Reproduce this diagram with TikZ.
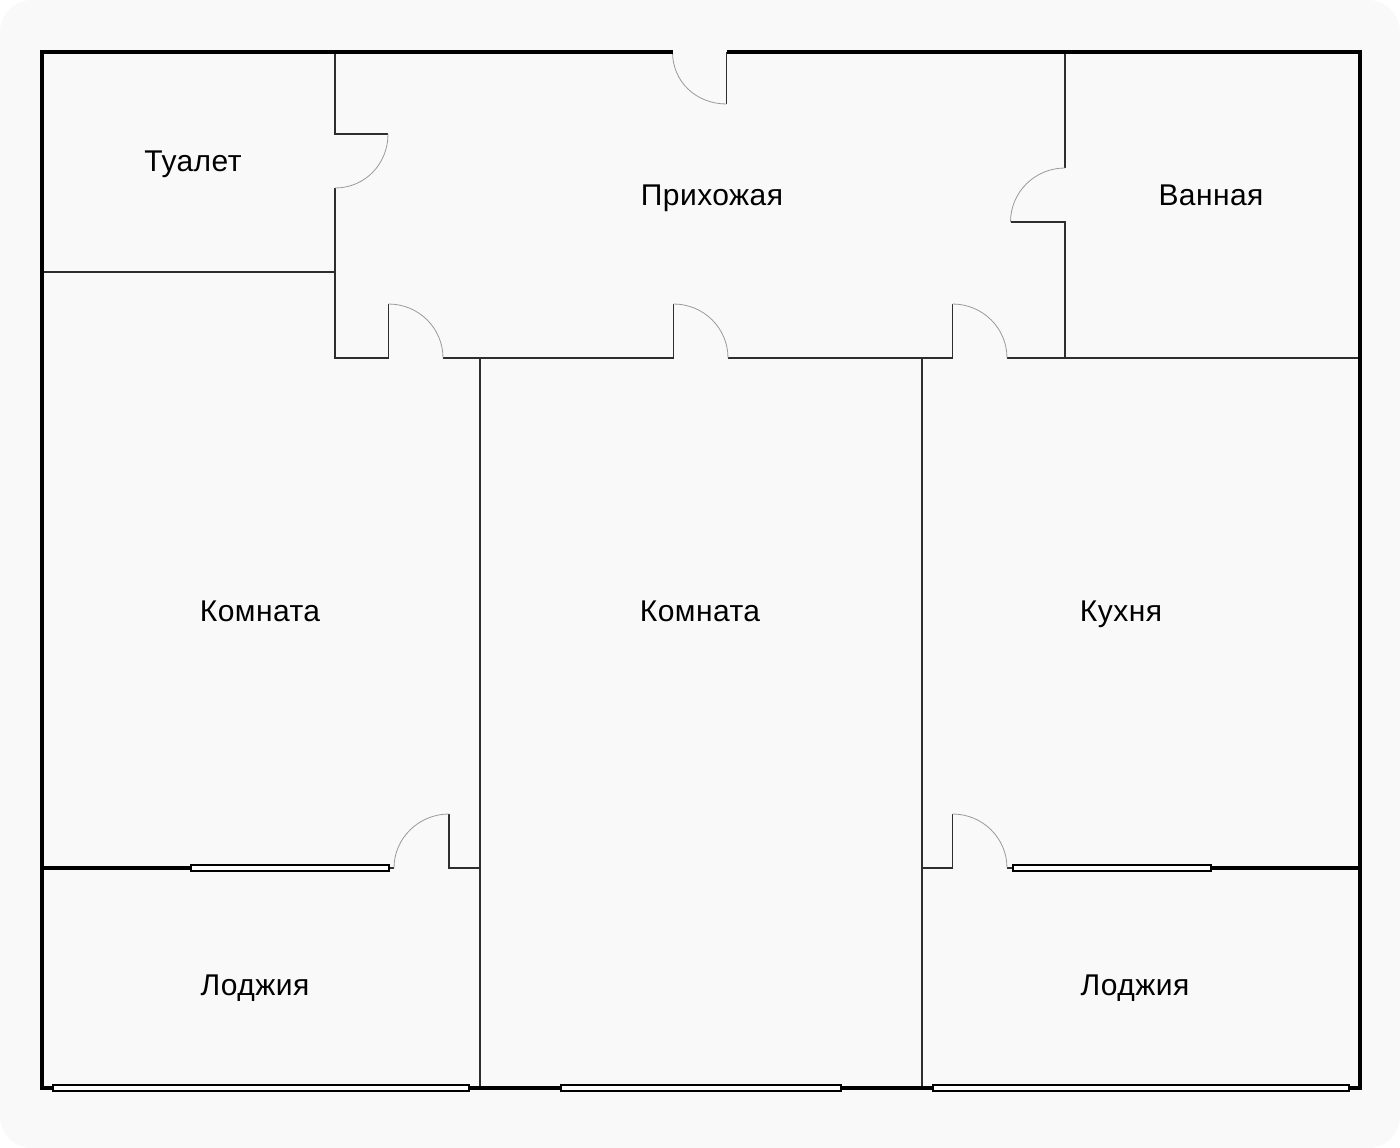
\documentclass[tikz,border=0pt]{standalone}
\usepackage{fontspec}
\setmainfont[LetterSpace=1.5]{Liberation Sans}
\definecolor{bgc}{HTML}{F9F9F9}
\definecolor{thinc}{HTML}{2E2E2E}
\definecolor{arcc}{HTML}{999999}
\tikzset{
  wall/.style={draw=black,line width=4pt,line cap=butt},
  partition/.style={draw=thinc,line width=1.4pt,line join=miter},
  swing/.style={draw=arcc,line width=0.8pt},
  glazing/.style={draw=black,line width=2pt,fill=white},
  room/.style={font=\fontsize{30}{32}\selectfont,text=black,anchor=base,inner sep=0pt}
}
\begin{document}
\begin{tikzpicture}[x=1pt,y=-1pt]
\useasboundingbox (0,0) rectangle (1400,1148);
\fill[white] (0,0) rectangle (1400,1148);
\fill[bgc,rounded corners=32pt] (0,0) rectangle (1400,1148);

% partitions
\draw[partition] (335,52) -- (335,134) -- (388,134);
\draw[partition] (335,188) -- (335,358) -- (388.5,358) -- (388.5,304);
\draw[partition] (42,272) -- (335,272);
\draw[partition] (443,358) -- (673.5,358) -- (673.5,304);
\draw[partition] (728,358) -- (952.5,358) -- (952.5,304);
\draw[partition] (1007,358) -- (1360,358);
\draw[partition] (1065,52) -- (1065,168);
\draw[partition] (1010.5,222) -- (1065,222) -- (1065,358);
\draw[partition] (480,358) -- (480,1088);
\draw[partition] (922,358) -- (922,1088);
\draw[partition] (726.5,52) -- (726.5,104);
\draw[partition] (390,868) -- (394,868);
\draw[partition] (449,814) -- (449,868) -- (480,868);
\draw[partition] (922,868) -- (952.5,868) -- (952.5,814);
\draw[partition] (1007,868) -- (1012,868);

% door swings
\draw[swing] (672.5,52) .. controls (672.5,82) and (696.5,104) .. (726.5,104);
\draw[swing] (388,134) .. controls (388,164) and (365,188) .. (335,188);
\draw[swing] (1065,168) .. controls (1035,168) and (1010.5,192) .. (1010.5,222);
\draw[swing] (388.5,304) .. controls (418.5,304) and (443,328) .. (443,358);
\draw[swing] (673.5,304) .. controls (703.5,304) and (728,328) .. (728,358);
\draw[swing] (952.5,304) .. controls (982.5,304) and (1007,328) .. (1007,358);
\draw[swing] (449,814) .. controls (419,814) and (394,838) .. (394,868);
\draw[swing] (952.5,814) .. controls (982.5,814) and (1007,838) .. (1007,868);

% outer walls
\draw[wall,line join=miter] (672.5,52) -- (42,52) -- (42,1088) -- (1360,1088) -- (1360,52) -- (726.5,52);
\draw[wall] (42,868) -- (191,868);
\draw[wall] (1211,868) -- (1360,868);

% windows
\draw[glazing] (191,865) rectangle (389,871);
\draw[glazing] (1013,865) rectangle (1211,871);
\draw[glazing] (53,1085) rectangle (469,1091);
\draw[glazing] (561,1085) rectangle (841,1091);
\draw[glazing] (933,1085) rectangle (1349,1091);

% labels
\node[room] (toilet) at (193,171.5) {Туалет};
\node[room] (hall) at (712,205.5) {Прихожая};
\node[room] (bath) at (1211,205.5) {Ванная};
\node[room] (roomA) at (260,621.5) {Комната};
\node[room] (roomB) at (700,621.5) {Комната};
\node[room] (kitchen) at (1121,621.5) {Кухня};
\node[room] (loggiaA) at (255,995.5) {Лоджия};
\node[room] (loggiaB) at (1135,995.5) {Лоджия};
\end{tikzpicture}
\end{document}
